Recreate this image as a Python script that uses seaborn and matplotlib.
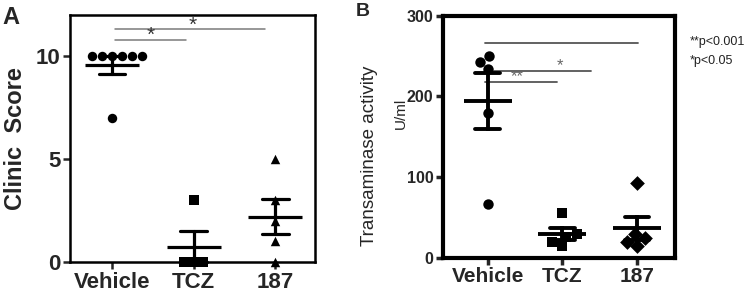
import numpy as np
import pandas as pd
import matplotlib
matplotlib.use("Agg")
import matplotlib.pyplot as plt
import seaborn as sns

groups = ["Vehicle", "TCZ", "187"]

# Panel A: clinic score
clinic_vehicle = [10, 10, 10, 10, 10, 10, 7]
clinic_tcz = [3, 0, 0, 0]
clinic_187 = [5, 3, 2, 1, 0]

# Panel B: transaminase activity (U/ml)
trans_vehicle = [250, 243, 234, 179, 66]
trans_tcz = [56, 30, 26, 19, 14]
trans_187 = [93, 24, 15, 20, 29]

sns.set_theme(style="white")
plt.rcParams["font.family"] = ["Liberation Sans", "DejaVu Sans"]

fig = plt.figure(figsize=(7.47, 2.94), dpi=100)
axA = fig.add_axes([70/747, 1-262/294, (315-70)/747, (262-15)/294])
axB = fig.add_axes([443/747, 1-257.7/294, (675-443)/747, (257.7-15.7)/294])


def make_df(vals_list):
    rows = []
    for g, vals in zip(groups, vals_list):
        for v in vals:
            rows.append((g, v))
    return pd.DataFrame(rows, columns=["group", "val"])


def draw_panel(ax, df, markers, msize, meanw, lw):
    for g, m in zip(groups, markers):
        sub = df[df.group == g]
        sns.swarmplot(data=sub, x="group", y="val", order=groups, marker=m,
                      color="black", size=msize, ax=ax, linewidth=0, zorder=3)
    sns.pointplot(data=df, x="group", y="val", order=groups, errorbar="se",
                  capsize=0.33, color="black", linestyle="none", marker="_",
                  markersize=meanw, markeredgewidth=lw,
                  err_kws={"linewidth": lw}, ax=ax, zorder=4)
    for c in ax.collections:
        c.set_clip_on(False)
    for l in ax.lines:
        l.set_clip_on(False)


dfA = make_df([clinic_vehicle, clinic_tcz, clinic_187])
draw_panel(axA, dfA, ["o", "s", "^"], 6.8, 39, 2.3)
axA.set_xlim(-0.515, 2.49)
axA.set_ylim(0, 12)
axA.set_yticks([0, 5, 10])
axA.set_xlabel("")
axA.set_ylabel("Clinic  Score", fontsize=17, fontweight="bold", labelpad=6)
axA.tick_params(axis="both", which="both", direction="out", length=5, width=1.8,
                labelsize=16, bottom=True, left=True, pad=2)
for lab in axA.get_xticklabels() + axA.get_yticklabels():
    lab.set_fontweight("bold")
for s in axA.spines.values():
    s.set_linewidth(1.8)
    s.set_color("black")

# significance bars A
sig_gray = "#7a7a7a"
axA.plot([0.04, 0.91], [10.8, 10.8], color=sig_gray, lw=1.1)
axA.text(0.47, 10.55, "*", ha="center", va="bottom", fontsize=15, color="#333333")
axA.plot([0.04, 1.88], [11.3, 11.3], color=sig_gray, lw=1.1)
axA.text(0.99, 11.05, "*", ha="center", va="bottom", fontsize=15, color="#333333")

dfB = make_df([trans_vehicle, trans_tcz, trans_187])
draw_panel(axB, dfB, ["o", "s", "D"], 7.5, 35, 2.8)
axB.set_xlim(-0.60, 2.51)
axB.set_ylim(0, 300)
axB.set_yticks([0, 100, 200, 300])
axB.set_xlabel("")
axB.set_ylabel("")
axB.tick_params(axis="both", which="both", direction="out", length=5, width=2.5,
                bottom=True, left=True, pad=2)
axB.tick_params(axis="y", labelsize=11.5)
axB.tick_params(axis="x", labelsize=15)
for lab in axB.get_xticklabels() + axB.get_yticklabels():
    lab.set_fontweight("bold")
for s in axB.spines.values():
    s.set_linewidth(3)
    s.set_color("black")

axB.plot([-0.04, 2.02], [266, 266], color="#555555", lw=1.3)
axB.plot([0.09, 1.38], [232, 232], color="#555555", lw=1.3)
axB.text(0.97, 229, "*", ha="center", va="bottom", fontsize=12, color="#666666")
axB.plot([-0.04, 0.93], [218, 218], color="#555555", lw=1.3)
axB.text(0.40, 215, "**", ha="center", va="bottom", fontsize=12, color="#666666")

fig.text(369/747, 1-156/294, "Transaminase activity", rotation=90, ha="center",
         va="center", fontsize=13.5)
fig.text(401/747, 1-113/294, "U/ml", rotation=90, ha="center", va="center",
         fontsize=11)
fig.text(690/747, 1-42/294, "**p<0.001", ha="left", va="center", fontsize=9, color="#222222")
fig.text(690/747, 1-61/294, "*p<0.05", ha="left", va="center", fontsize=9, color="#222222")

fig.text(2/747, 1-18/294, "A", ha="left", va="center", fontsize=17, fontweight="bold")
fig.text(356/747, 1-11/294, "B", ha="left", va="center", fontsize=14, fontweight="bold")

fig.savefig("out.png", dpi=100)
